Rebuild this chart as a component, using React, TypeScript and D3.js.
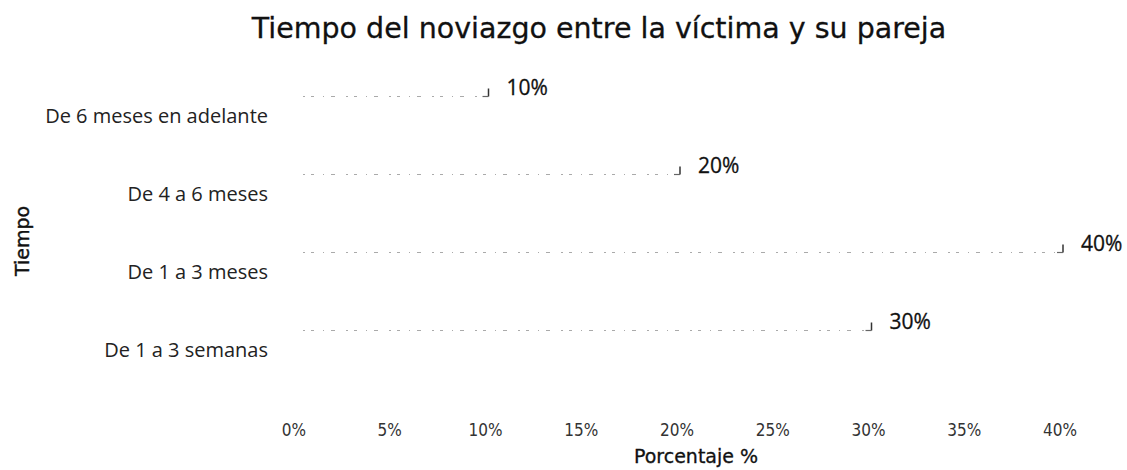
import React from "react";
import * as d3 from "d3";

const categories = [
  "De 6 meses en adelante",
  "De 4 a 6 meses",
  "De 1 a 3 meses",
  "De 1 a 3 semanas",
];
const values = [10, 20, 40, 30];
const tickValues = [0, 5, 10, 15, 20, 25, 30, 35, 40];
const title = "Tiempo del noviazgo entre la víctima y su pareja";
const xTitle = "Porcentaje %";
const yTitle = "Tiempo";

const W = 1127;
const H = 470;

export default function App() {
  const x = d3.scaleLinear().domain([0, 40]).range([300, 1066]);
  const y = d3
    .scaleBand<string>()
    .domain(categories)
    .range([77, 389])
    .paddingInner(0.5)
    .paddingOuter(0.25);

  return (
    <svg
      width={W}
      height={H}
      style={{ position: "absolute", left: 0, top: 0, background: "#fff" }}
    >
      <rect x={0} y={0} width={W} height={H} fill="#fff" />
      <text
        x={599}
        y={38}
        textAnchor="middle"
        fontFamily="DejaVu Sans"
        fontSize={28.5}
        fill="#111"
        stroke="#111"
        strokeWidth={0.3}
      >
        {title}
      </text>
      <text
        transform={`translate(29,241) rotate(-90)`}
        textAnchor="middle"
        fontFamily="DejaVu Sans"
        fontSize={19}
        fill="#111"
        stroke="#111"
        strokeWidth={0.4}
      >
        {yTitle}
      </text>
      {categories.map((c, i) => {
        const top = y(c)!;
        const bw = y.bandwidth();
        const end = x(values[i]);
        const center = top + bw / 2;
        return (
          <g key={c}>
            <text
              x={268}
              y={center + 7}
              textAnchor="end"
              fontFamily="Open Sans"
              fontSize={20}
              fill="#222"
            >
              {c}
            </text>
            <rect x={x(0)} y={top} width={end - x(0)} height={bw} fill="#fff" />
            <line
              x1={x(0) + 3}
              x2={end - 6}
              y1={top}
              y2={top}
              stroke="#aaa"
              strokeWidth={1.2}
              strokeDasharray="2 6 3 9 1 7 4 11"
            />
            <line
              x1={end - 3}
              x2={end - 3}
              y1={top - 8}
              y2={top}
              stroke="#333"
              strokeWidth={1.5}
            />
            <line
              x1={end - 9}
              x2={end - 3}
              y1={top}
              y2={top}
              stroke="#666"
              strokeWidth={1.2}
            />
            <text
              x={end + 15}
              y={top - 2}
              fontFamily="Open Sans"
              fontSize={21}
              fill="#111"
              stroke="#111"
              strokeWidth={0.3}
            >
              {values[i]}%
            </text>
          </g>
        );
      })}
      {tickValues.map((t) => (
        <text
          key={t}
          x={x(t) - 6}
          y={436}
          textAnchor="middle"
          fontFamily="DejaVu Sans Condensed, DejaVu Sans"
          fontSize={17}
          fill="#333"
        >
          {t}%
        </text>
      ))}
      <text
        x={696}
        y={463}
        textAnchor="middle"
        fontFamily="DejaVu Sans"
        fontSize={19}
        fill="#111"
        stroke="#111"
        strokeWidth={0.3}
      >
        {xTitle}
      </text>
    </svg>
  );
}
